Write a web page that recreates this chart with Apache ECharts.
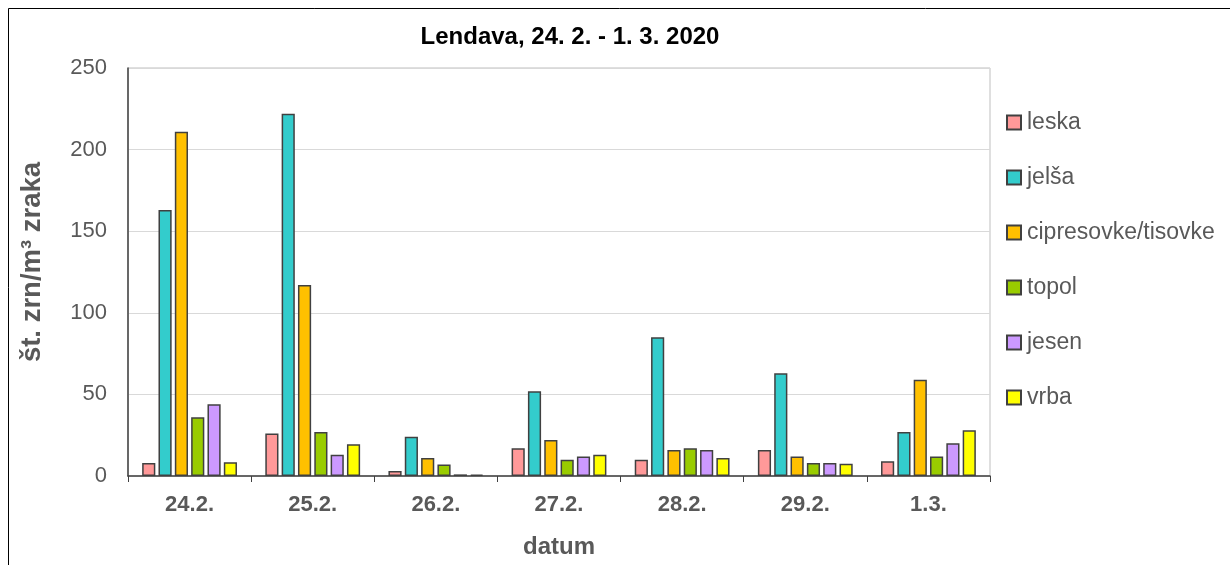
<!DOCTYPE html>
<html>
<head>
<meta charset="utf-8">
<script src="https://cdn.jsdelivr.net/npm/echarts@6/dist/echarts.min.js"></script>
<style>
html,body{margin:0;padding:0;background:#fff;}
#c{width:1230px;height:565px;}
</style>
</head>
<body>
<div id="c"></div>
<script>
const categories = ['24.2.', '25.2.', '26.2.', '27.2.', '28.2.', '29.2.', '1.3.'];
const leska = [8, 26, 3, 17, 10, 16, 9];
const jelsa = [163, 222, 24, 52, 85, 63, 27];
const cipresovke = [211, 117, 11, 22, 16, 12, 59];
const topol = [36, 27, 7, 10, 17, 8, 12];
const jesen = [44, 13, 1, 12, 16, 8, 20];
const vrba = [8.5, 19.5, 0.8, 13, 11, 7.5, 28];
const yTicks = [0, 50, 100, 150, 200, 250];

const seriesDefs = [
  ['leska', leska, '#FF9999'],
  ['jelša', jelsa, '#33CCCC'],
  ['cipresovke/tisovke', cipresovke, '#FFC000'],
  ['topol', topol, '#99CC00'],
  ['jesen', jesen, '#CC99FF'],
  ['vrba', vrba, '#FFFF00']
];

const chart = echarts.init(document.getElementById('c'));
chart.setOption({
  animation: false,
  title: {
    text: 'Lendava, 24. 2. - 1. 3. 2020',
    left: 565, top: 20, textAlign: 'center',
    textStyle: {fontFamily: 'Liberation Sans', fontWeight: 'bold', fontSize: 24, color: '#000'}
  },
  graphic: [{
    type: 'rect', silent: true,
    shape: {x: 8.5, y: 8.5, width: 1240, height: 600},
    style: {fill: 'none', stroke: '#000', lineWidth: 1}
  }, {
    type: 'text', silent: true,
    x: 32, y: 262, rotation: Math.PI / 2,
    style: {text: 'št. zrn/m³ zraka', fontFamily: 'Liberation Sans', fontWeight: 'bold', fontSize: 27.5,
      fill: '#595959', align: 'center', verticalAlign: 'middle'}
  }],
  legend: {
    orient: 'vertical', left: 1001, top: 106, itemGap: 32,
    itemWidth: 14, itemHeight: 14, icon: 'rect',
    textStyle: {fontFamily: 'Liberation Sans', fontSize: 23, color: '#595959', padding: [0, 0, 0, 1]},
    data: seriesDefs.map(s => s[0])
  },
  grid: {left: 128, right: 240, top: 68, bottom: 89, show: true, borderColor: '#BFBFBF', borderWidth: 1, containLabel: false},
  xAxis: {
    type: 'category', data: categories,
    axisLine: {lineStyle: {color: '#404040', width: 1.5}},
    axisTick: {show: true, length: 6, lineStyle: {color: '#404040'}},
    axisLabel: {fontFamily: 'Liberation Sans', fontWeight: 'bold', fontSize: 22, color: '#595959', margin: 18},
    name: 'datum', nameLocation: 'middle', nameGap: 59,
    nameTextStyle: {fontFamily: 'Liberation Sans', fontWeight: 'bold', fontSize: 24, color: '#595959'}
  },
  yAxis: {
    type: 'value', min: 0, max: 250, interval: 50,
    axisLine: {show: true, lineStyle: {color: '#404040', width: 1.5}},
    axisTick: {show: false},
    splitLine: {lineStyle: {color: '#D9D9D9'}},
    axisLabel: {fontFamily: 'Liberation Sans', fontSize: 22, color: '#595959', margin: 21,
      formatter: v => yTicks.includes(v) ? String(v) : ''}
  },
  series: seriesDefs.map(s => ({
    name: s[0], type: 'bar', data: s[1],
    barGap: '24%', barCategoryGap: '23%',
    itemStyle: {color: s[2], borderColor: '#404040', borderWidth: 1.5}
  }))
});
</script>
</body>
</html>
